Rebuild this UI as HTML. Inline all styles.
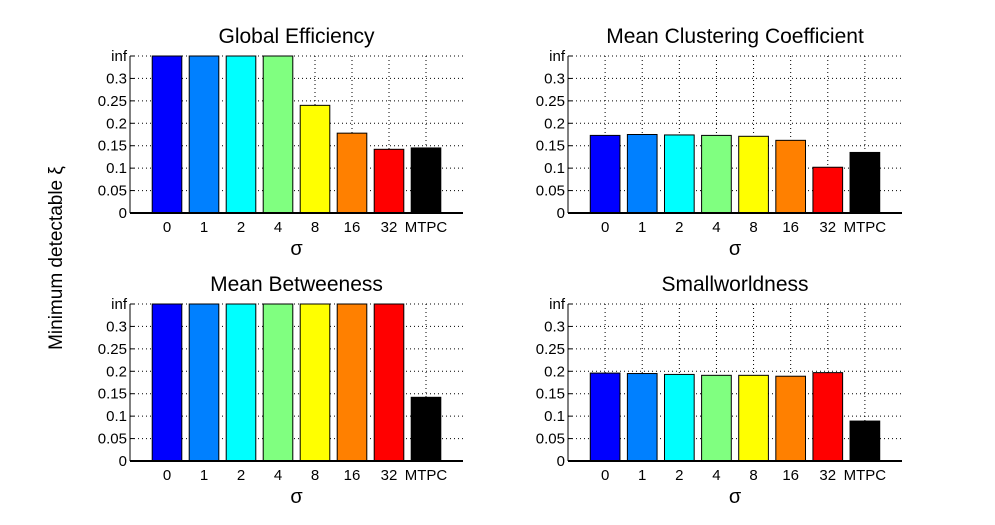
<!DOCTYPE html>
<html><head><meta charset="utf-8"><style>
html,body{margin:0;padding:0;background:#fff;}
svg{display:block;font-family:"Liberation Sans",sans-serif;}
</style></head><body>
<svg id="fig" width="995" height="525" viewBox="0 0 995 525">
<text x="62" y="258" font-size="19" text-anchor="middle" transform="rotate(-90 62 258)">Minimum detectable ξ</text>
</svg>
<script>
const categories = ["0","1","2","4","8","16","32","MTPC"];
const colors = ["#0000ff","#0080ff","#00ffff","#80ff80","#ffff00","#ff8000","#ff0000","#000000"];
const yTicks = [0,0.05,0.1,0.15,0.2,0.25,0.3];
const yTickLabels = ["0","0.05","0.1","0.15","0.2","0.25","0.3"];
const INF = null;
const globalEfficiency = [INF,INF,INF,INF,0.240,0.178,0.142,0.145];
const meanClustering = [0.173,0.175,0.174,0.173,0.171,0.162,0.102,0.135];
const meanBetweeness = [INF,INF,INF,INF,INF,INF,INF,0.142];
const smallworldness = [0.196,0.195,0.193,0.191,0.191,0.189,0.197,0.089];
const titles = ["Global Efficiency","Mean Clustering Coefficient","Mean Betweeness","Smallworldness"];
const series = [globalEfficiency, meanClustering, meanBetweeness, smallworldness];
const panels = [{l:130,t:56,w:333,h:157},{l:568,t:56,w:334,h:157},{l:130,t:304,w:333,h:157},{l:568,t:304,w:334,h:157}];
const NS="http://www.w3.org/2000/svg";
const svg=document.getElementById('fig');
function mk(tag,attrs,parent){const e=document.createElementNS(NS,tag);for(const k in attrs)e.setAttribute(k,attrs[k]);(parent||svg).appendChild(e);return e;}
const YMAX=0.35;
series.forEach((vals,pi)=>{
  const p=panels[pi];
  const g=mk('g',{});
  
  
  const xs=i=>p.l+(i+1)*p.w/9;
  const ys=v=>p.t+p.h-(v/YMAX)*p.h;
  yTicks.concat([YMAX]).forEach(v=>{ if(v>0) mk('line',{x1:p.l,x2:p.l+p.w,y1:ys(v),y2:ys(v),stroke:'#000','stroke-width':1,'stroke-dasharray':'1,3'},g);});
  categories.forEach((c,i)=>mk('line',{x1:xs(i),x2:xs(i),y1:p.t,y2:p.t+p.h,stroke:'#000','stroke-width':1,'stroke-dasharray':'1,3'},g));
  vals.forEach((v,i)=>{
    const val=(v===null)?YMAX:v;
    const bw=0.8*p.w/9;
    const r=mk('rect',{x:xs(i)-bw/2,y:ys(val),width:bw,height:ys(0)-ys(val),fill:colors[i],stroke:'#000','stroke-width':1},g);
    
    
  });
  mk('line',{x1:p.l,x2:p.l,y1:p.t,y2:p.t+p.h,stroke:'#000','stroke-width':1},g);
  mk('line',{x1:p.l,x2:p.l+p.w,y1:p.t+p.h,y2:p.t+p.h,stroke:'#000','stroke-width':2},g);
  yTicks.forEach((v,i)=>{
    mk('line',{x1:p.l,x2:p.l+4,y1:ys(v),y2:ys(v),stroke:'#000'},g);
    const t=mk('text',{x:p.l-3,y:ys(v)+5,'font-size':15,'text-anchor':'end'},g);t.textContent=yTickLabels[i];
    
    
  });
  mk('line',{x1:p.l,x2:p.l+4,y1:ys(YMAX),y2:ys(YMAX),stroke:'#000'},g);
  const inf=mk('text',{x:p.l-3,y:ys(YMAX)+5,'font-size':15,'text-anchor':'end'},g);inf.textContent='inf';
  categories.forEach((c,i)=>{
    const t=mk('text',{x:xs(i),y:p.t+p.h+19,'font-size':15,'text-anchor':'middle'},g);t.textContent=c;
    
    
  });
  const xl=mk('text',{x:p.l+p.w/2,y:p.t+p.h+42,'font-size':20,'text-anchor':'middle'},g);xl.textContent='σ';
  
  
  const tt=mk('text',{x:p.l+p.w/2,y:p.t-13,'font-size':21,'text-anchor':'middle'},g);tt.textContent=titles[pi];
  
  
});
</script>
</body></html>
